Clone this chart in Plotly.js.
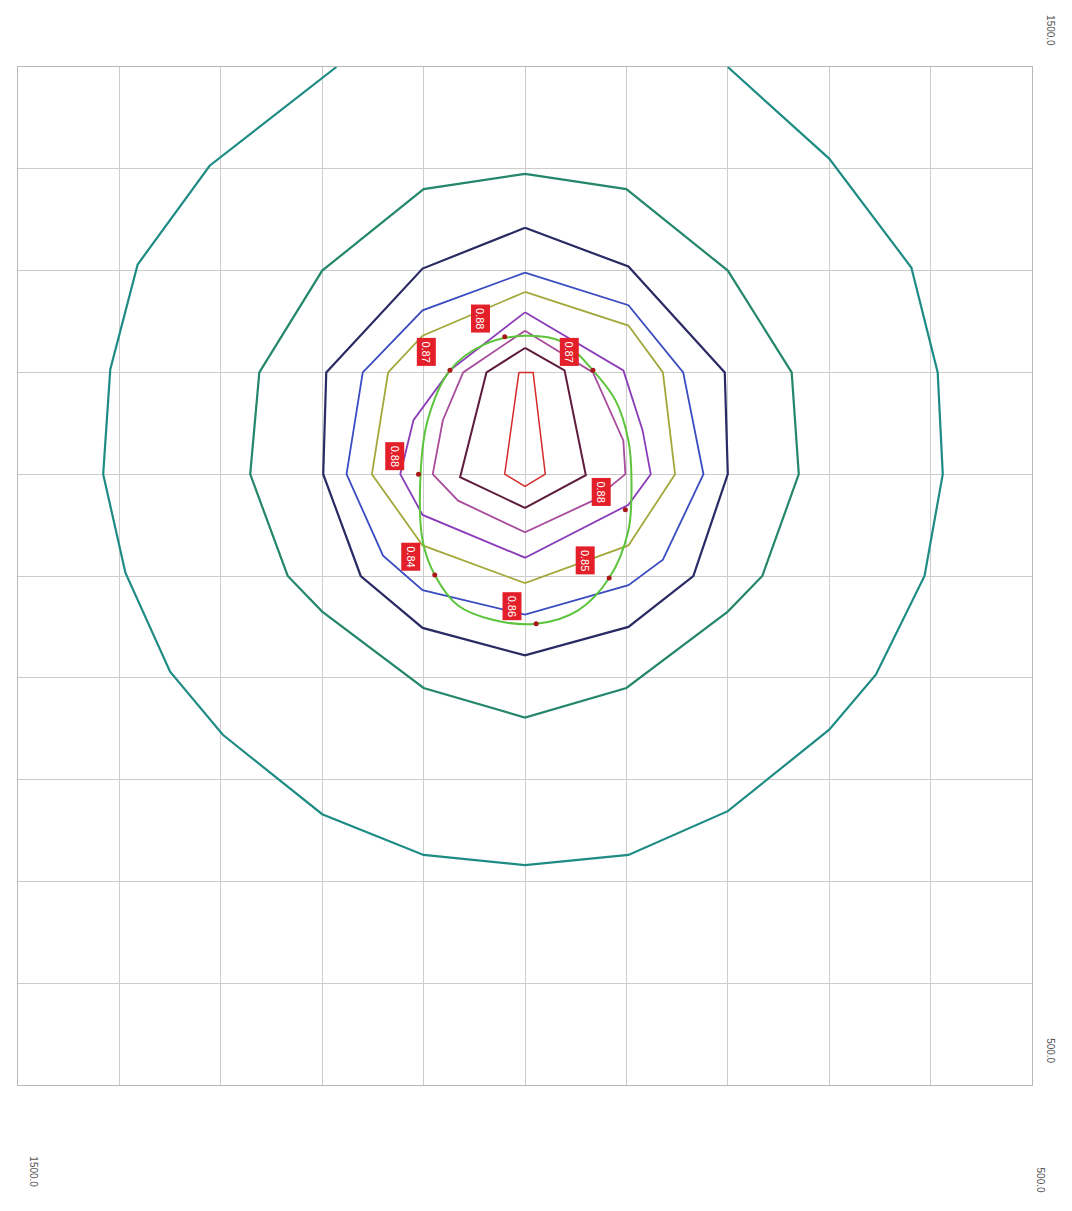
<!DOCTYPE html>
<html>
<head>
<meta charset="utf-8">
<script src="https://cdn.plot.ly/plotly-3.0.1.min.js"></script>
<style>html,body{margin:0;padding:0;background:#fff;}#chart{width:1072px;height:1211px;}</style>
</head>
<body>
<div id="chart"></div>
<script>
// Contour levels (isolines), coordinates in plan units
const outerX = [1186, 1311, 1382, 1409, 1416, 1394, 1350, 1298, 1200, 1100, 1000, 898, 800, 700, 654, 606, 588, 593, 619, 700, 800];
const outerY = [1500, 1403, 1306, 1203, 1100, 1003, 906, 844, 766, 726, 716, 726, 769, 849, 903, 1000, 1100, 1200, 1303, 1410, 1500];

const ring2X = [1000, 900, 800, 737, 730, 766, 800, 900, 1000, 1100, 1200, 1234, 1271, 1262, 1200, 1100, 1000];
const ring2Y = [1395, 1380, 1300, 1200, 1100, 1000, 965, 890, 861, 890, 965, 1000, 1100, 1200, 1300, 1380, 1395];

const navyX = [1000, 898, 803, 800, 834, 898, 1000, 1101, 1162, 1199, 1196, 1101, 1000];
const navyY = [1342, 1304, 1200, 1100, 1000, 950, 922, 949, 1000, 1100, 1200, 1302, 1342];

const blueX = [1000, 898, 844, 824, 864, 898, 1000, 1101, 1140, 1176, 1160, 1101, 1000];
const blueY = [1298, 1266, 1200, 1100, 1016, 991, 962, 986, 1020, 1100, 1200, 1261, 1298];

const oliveX = [1000, 898, 864, 852, 898, 1000, 1101, 1151, 1135, 1101, 1000];
const oliveY = [1279, 1246, 1200, 1100, 1030, 993, 1030, 1100, 1200, 1236, 1279];

const purpleX = [1000, 940, 903, 884, 876, 898, 1000, 1101, 1123, 1110, 1074, 1000];
const purpleY = [1259, 1224, 1202, 1143, 1100, 1070, 1018, 1060, 1100, 1153, 1202, 1259];

const plumX = [1000, 933, 903, 901, 933, 1000, 1066, 1091, 1081, 1061, 1000];
const plumY = [1241, 1200, 1133, 1100, 1074, 1043, 1074, 1100, 1153, 1200, 1241];

const maroonX = [1000, 961, 940, 1000, 1064, 1038, 1000];
const maroonY = [1224, 1202, 1099, 1067, 1097, 1200, 1224];

const redX = [1006, 992, 980, 1000, 1020, 1006];
const redY = [1200, 1200, 1100, 1088, 1100, 1200];

// Measured profile (green closed curve)
const profX = [1000, 963, 933, 911, 898, 895, 898, 917, 948, 989, 1032, 1066, 1089, 1101, 1103, 1096, 1074, 1041, 1000];
const profY = [1236, 1230, 1202, 1173, 1133, 1094, 1045, 998, 966, 953, 957, 971, 1001, 1035, 1100, 1153, 1202, 1227, 1236];

// Measurement points and values
const ptX = [1020, 1074, 933, 1105, 901, 1089, 917, 989];
const ptY = [1235, 1202, 1202, 1100, 1065, 1001, 998, 953];
const ptVal = ['0.88', '0.87', '0.87', '0.88', '0.88', '0.84', '0.85', '0.86'];

// Axis extent labels
const axisLabels = ['1500.0', '500.0', '1500.0', '500.0'];

function line(x, y, color, width, shape) {
  return {type: 'scatter', mode: 'lines', x: x, y: y, hoverinfo: 'skip',
          line: {color: color, width: width, shape: shape || 'linear', smoothing: 1}, showlegend: false};
}

const traces = [
  line(outerX, outerY, '#1e8c84', 2.2),
  line(ring2X, ring2Y, '#24876c', 2.2),
  line(navyX, navyY, '#2a2a64', 2.2),
  line(blueX, blueY, '#3a4cc0', 1.8),
  line(oliveX, oliveY, '#a2a83a', 1.8),
  line(purpleX, purpleY, '#8a3cb8', 1.8),
  line(plumX, plumY, '#a84c9c', 1.8),
  line(maroonX, maroonY, '#5e1c3c', 2),
  line(redX, redY, '#d42a2a', 1.5),
  line(profX, profY, '#5cc43c', 2, 'spline'),
  {type: 'scatter', mode: 'markers', x: ptX, y: ptY, hoverinfo: 'skip', showlegend: false,
   marker: {color: '#a81818', size: 5}}
];

const annotations = ptX.map((x, i) => ({
  x: x, y: ptY[i], xref: 'x', yref: 'y', text: ptVal[i], showarrow: false,
  xshift: -24, yshift: 18, textangle: 90, bgcolor: '#e3202a', borderpad: 3,
  font: {family: 'Liberation Sans, Arial, sans-serif', size: 11, color: '#ffffff'}
}));

const labelPos = [[1.018, 1.036], [1.018, 0.034], [0.015, -0.085], [1.008, -0.093]];
axisLabels.forEach((t, i) => {
  annotations.push({xref: 'paper', yref: 'paper', x: labelPos[i][0], y: labelPos[i][1],
    xanchor: 'center', yanchor: 'middle',
    text: t, showarrow: false, textangle: 90,
    font: {family: 'Liberation Sans, Arial, sans-serif', size: 10, color: '#555555'}});
});

const layout = {
  width: 1072, height: 1211,
  margin: {l: 18, r: 40, t: 67, b: 126, pad: 0},
  paper_bgcolor: '#ffffff', plot_bgcolor: '#ffffff',
  xaxis: {range: [1500, 500], dtick: 100, tick0: 500, showgrid: true, gridcolor: '#cccccc', gridwidth: 1,
          showticklabels: false, ticks: '', zeroline: false, showline: true, linecolor: '#b8b8b8', mirror: true, fixedrange: true},
  yaxis: {range: [500, 1500], dtick: 100, tick0: 500, showgrid: true, gridcolor: '#cccccc', gridwidth: 1,
          showticklabels: false, ticks: '', zeroline: false, showline: true, linecolor: '#b8b8b8', mirror: true, fixedrange: true},
  annotations: annotations,
  showlegend: false
};

Plotly.newPlot('chart', traces, layout, {displayModeBar: false, staticPlot: true});
</script>
</body>
</html>
